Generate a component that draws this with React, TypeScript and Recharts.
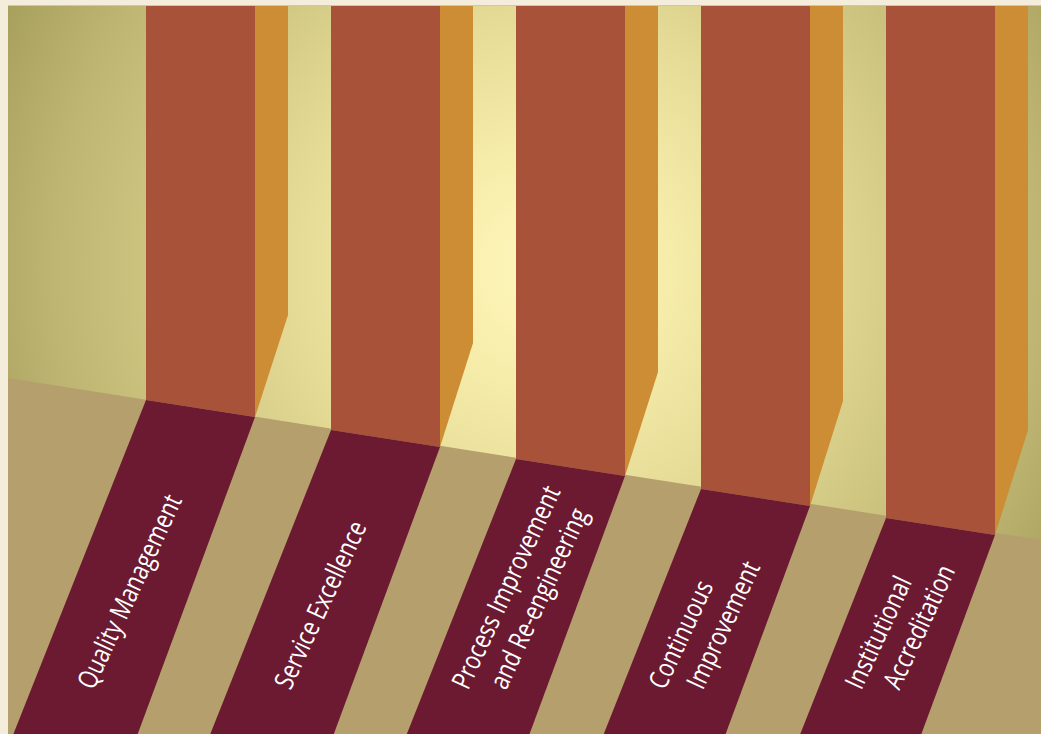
import React from 'react';
import { ComposedChart, Bar, Area, XAxis, YAxis } from 'recharts';

// pillars of the quality framework
const categories = [
  'Quality Management',
  'Service Excellence',
  'Process Improvement and Re-engineering',
  'Continuous Improvement',
  'Institutional Accreditation',
];
const labelLines = [
  ['Quality Management'],
  ['Service Excellence'],
  ['Process Improvement', 'and Re-engineering'],
  ['Continuous', 'Improvement'],
  ['Institutional', 'Accreditation'],
];

// values on the hidden y scale (0 = bottom of the plot, 728 = top)
const pillarTop = [728, 728, 728, 728, 728];
const baseLeft = [334, 304, 275, 245, 216];
const baseRight = [317, 287, 258, 228, 199];
const sideBase = [419, 391, 362, 333, 304];

// sloping floor, measured at both ends of the plot
const floorX = [0, 1033];
const floorY = [356, 194];

const W = 1033;
const H = 728;

const FRONT = '#a9523a';
const SIDE = '#cc8d34';
const STRIP = '#6b1a31';
const FLOOR = '#b5a06d';

const DEPTH = 33;
const SHEAR_L = 0.397;
const SHEAR_R = 0.37;

const data = categories.map((name, i) => ({
  name,
  lines: labelLines[i],
  range: [baseLeft[i], pillarTop[i]],
  baseRight: baseRight[i],
  sideBase: sideBase[i],
}));

const floorData = floorX.map((x, i) => ({ x, floor: floorY[i] }));

const Pillar = (props: any) => {
  const { x, y, width, height, payload } = props;
  const [lo, hi] = payload.range;
  const ppu = height / (hi - lo);
  const py = (v: number) => y + (hi - v) * ppu;
  const R = x + width;
  const yL = py(lo);
  const yR = py(payload.baseRight);
  const yS = py(payload.sideBase);
  const bottom = py(0);

  const front = `${x},${y} ${R},${y} ${R},${yR} ${x},${yL}`;
  const side = `${R},${y} ${R + DEPTH},${y} ${R + DEPTH},${yS} ${R},${yR}`;
  const strip = `${x},${yL} ${R},${yR} ${R - SHEAR_R * (bottom - yR)},${bottom} ${x - SHEAR_L * (bottom - yL)},${bottom}`;

  const ty = bottom - 43;
  const edge = x - SHEAR_L * (ty - yL);
  const cx = edge + 63;
  const n = payload.lines.length;

  return (
    <g>
      <polygon points={front} fill={FRONT} />
      <polygon points={side} fill={SIDE} />
      <polygon points={strip} fill={STRIP} />
      {payload.lines.map((line: string, i: number) => {
        const tx = cx + (i - (n - 1) / 2) * 38;
        return (
          <text
            key={line}
            x={0}
            y={0}
            transform={`translate(${tx} ${ty}) rotate(-65) scale(0.8 1)`}
            fill="#ffffff"
            fontSize={27}
            fontFamily="'Open Sans', 'Noto Sans', sans-serif"
            textAnchor="start"
          >
            {line}
          </text>
        );
      })}
    </g>
  );
};

export default function App() {
  return (
    <div style={{ position: 'absolute', left: 0, top: 0, width: 1041, height: 734, background: '#f5eddb', overflow: 'hidden' }}>
      <div
        style={{
          position: 'absolute',
          left: 8,
          top: 6,
          width: W,
          height: H,
          boxShadow: '0 -1px 0 #d3c79c',
          background:
            'radial-gradient(circle 620px at 540px 262px, #fff8bd 0%, #f6eca9 20%, #e6dc98 40%, #d1c884 60%, #bdb571 80%, #a39b58 100%)',
        }}
      >
        <ComposedChart width={W} height={H} data={data} margin={{ top: 0, right: 0, bottom: 0, left: 0 }}>
          <XAxis dataKey="name" hide padding={{ left: 100, right: 8 }} />
          <XAxis xAxisId="floor" dataKey="x" type="number" domain={[0, W]} hide />
          <YAxis domain={[0, H]} hide />
          <Area
            xAxisId="floor"
            data={floorData}
            dataKey="floor"
            type="linear"
            stroke="none"
            fill={FLOOR}
            fillOpacity={1}
            isAnimationActive={false}
          />
          <Bar dataKey="range" barSize={109} shape={<Pillar />} isAnimationActive={false} />
        </ComposedChart>
      </div>
    </div>
  );
}
